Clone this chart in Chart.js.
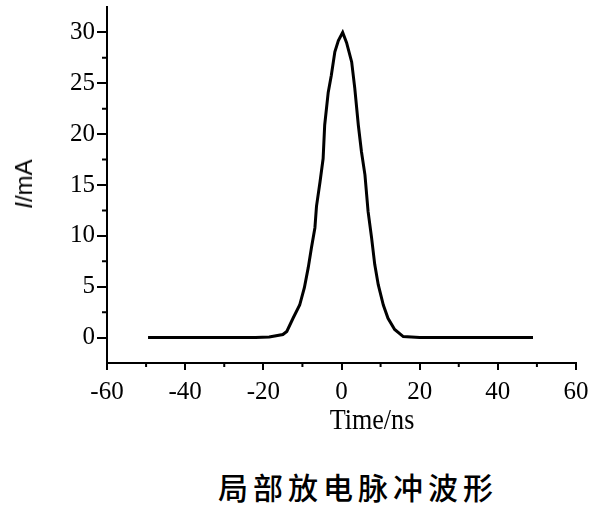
<!DOCTYPE html>
<html>
<head>
<meta charset="utf-8">
<script src="https://cdn.jsdelivr.net/npm/chart.js@4.4.1/dist/chart.umd.min.js"></script>
<style>
  html, body { margin: 0; padding: 0; background: #fff; }
  #wrap { position: relative; width: 599px; height: 508px; overflow: hidden; }
  #chartBox { position: absolute; left: 0; top: 0; width: 599px; height: 440px; }
  .lbl { position: absolute; color: #000; white-space: nowrap; }
  #yTitle { left: 24px; top: 184px; font: 24px "Liberation Sans", Arial, sans-serif;
            transform: translate(-50%, -50%) rotate(-90deg); }
  #xTitle { left: 372px; top: 419px; font: 29px "Liberation Serif", "Times New Roman", serif;
            transform: translate(-50%, -50%) scaleX(0.9); }
  #caption { left: 358px; top: 486px; font: 500 30px/30px "Noto Sans CJK SC", sans-serif;
             letter-spacing: 5px; transform: translate(-50%, -50%); }
</style>
</head>
<body>
<div id="wrap">
  <div id="chartBox"><canvas id="pulseChart"></canvas></div>
  <div class="lbl" id="yTitle"><i>I</i>/mA</div>
  <div class="lbl" id="xTitle">Time/ns</div>
  <div class="lbl" id="caption">局部放电脉冲波形</div>
</div>
<script>
// pulse readings
const timeNs = [-49.5, -22, -18.5, -15, -14, -12.4, -10.7, -9.5, -8.5, -7.7, -6.8, -6.4, -5.5, -4.7, -4.3,
  -3.4, -2.6, -1.7, -0.8, 0.3, 1.3, 2.6, 3.4, 4.3, 5.1, 6.0, 6.8, 7.7, 8.5, 9.4, 10.7, 11.9, 13.6, 15.8, 20, 49];
const currentMa = [0, 0, 0.05, 0.3, 0.6, 1.9, 3.2, 4.9, 6.9, 8.8, 10.8, 12.9, 15.3, 17.6, 20.9,
  24.1, 25.8, 28.1, 29.2, 30.0, 29.0, 27.1, 24.5, 20.9, 18.3, 16.0, 12.4, 9.8, 7.2, 5.2, 3.2, 1.9, 0.8, 0.1, 0, 0];

const xTicks = [-60, -40, -20, 0, 20, 40, 60];
const xMinorTicks = [-50, -30, -10, 10, 30, 50];
const yTicks = [0, 5, 10, 15, 20, 25, 30];
const yMinorTicks = [2.5, 7.5, 12.5, 17.5, 22.5, 27.5];

const tickFont = { family: '"Liberation Serif", "Times New Roman", serif', size: 25 };

// short minor ticks drawn off the chart's own scales
const minorTicks = {
    id: 'minorTicks',
    afterDraw(chart) {
        const ctx = chart.ctx;
        const xs = chart.scales.x;
        const ys = chart.scales.y;
        ctx.save();
        ctx.strokeStyle = '#000';
        ctx.lineWidth = 2;
        ctx.beginPath();
        xMinorTicks.forEach(v => {
            const px = xs.getPixelForValue(v);
            ctx.moveTo(px, xs.top);
            ctx.lineTo(px, xs.top + 4);
        });
        yMinorTicks.forEach(v => {
            const py = ys.getPixelForValue(v);
            ctx.moveTo(ys.right - 5, py);
            ctx.lineTo(ys.right, py);
        });
        ctx.stroke();
        ctx.restore();
    }
};

const ctx = document.getElementById('pulseChart').getContext('2d');
new Chart(ctx, {
    type: 'line',
    data: {
        datasets: [{
            data: timeNs.map((t, i) => ({ x: t, y: currentMa[i] })),
            borderColor: '#000',
            borderWidth: 3,
            pointRadius: 0,
            fill: false,
            tension: 0
        }]
    },
    options: {
        responsive: true,
        maintainAspectRatio: false,
        animation: false,
        layout: { padding: { top: 6, right: 23, bottom: 0, left: 0 } },
        plugins: { legend: { display: false }, tooltip: { enabled: false } },
        scales: {
            x: {
                type: 'linear',
                min: -60,
                max: 60,
                afterBuildTicks: scale => { scale.ticks = xTicks.map(v => ({ value: v })); },
                afterFit: scale => { scale.height = 77; },
                grid: { drawOnChartArea: false, drawTicks: true, tickLength: 7, lineWidth: 2, color: '#000' },
                border: { display: true, color: '#000', width: 2 },
                ticks: { color: '#000', font: tickFont, padding: 7, maxRotation: 0 }
            },
            y: {
                min: -2.5,
                max: 32.5,
                afterBuildTicks: scale => { scale.ticks = yTicks.map(v => ({ value: v })); },
                afterFit: scale => { scale.width = 107; },
                grid: { drawOnChartArea: false, drawTicks: true, tickLength: 10, lineWidth: 2, color: '#000' },
                border: { display: true, color: '#000', width: 2 },
                ticks: { color: '#000', font: Object.assign({ lineHeight: 0.4 }, tickFont), padding: 2 }
            }
        }
    },
    plugins: [minorTicks]
});
</script>
</body>
</html>
